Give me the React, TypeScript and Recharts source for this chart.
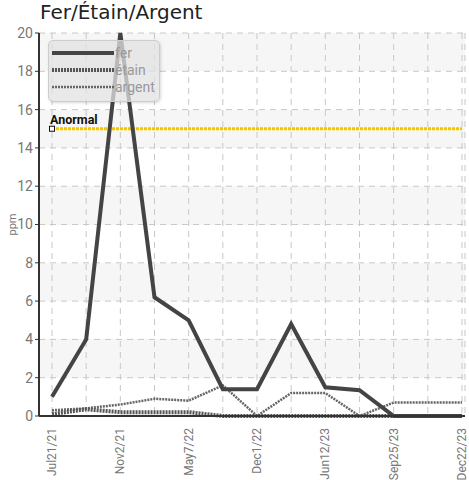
import React from "react";
import {
  LineChart,
  Line,
  XAxis,
  YAxis,
  CartesianGrid,
} from "recharts";

const dates = [
  "Jul21/21",
  "Sep14/21",
  "Nov2/21",
  "Feb8/22",
  "May7/22",
  "Aug20/22",
  "Dec1/22",
  "Mar9/23",
  "Jun12/23",
  "Aug3/23",
  "Sep25/23",
  "Nov10/23",
  "Dec22/23",
];
const fer = [1.0, 4.0, 20, 6.2, 5.0, 1.4, 1.4, 4.8, 1.5, 1.35, 0, 0, 0];
const etain = [0.1, 0.35, 0.2, 0.2, 0.2, 0, 0, 0, 0, 0, 0, 0, 0];
const argent = [0.3, 0.4, 0.6, 0.9, 0.8, 1.6, 0, 1.2, 1.2, 0, 0.7, 0.7, 0.7];
const anormal = dates.map(() => 15);
const yTicks = [0, 2, 4, 6, 8, 10, 12, 14, 16, 18, 20];

const data = dates.map((d, i) => ({
  date: d,
  fer: fer[i],
  etain: etain[i],
  argent: argent[i],
  anormal: anormal[i],
}));

const FONT = "'DejaVu Sans', sans-serif";
const NARROW = "Roboto, sans-serif";

const XTick = ({ x, y, payload, index }: any) => {
  if (index % 2 !== 0) return null;
  return (
    <text
      x={x}
      y={y}
      transform={`rotate(-90, ${x}, ${y})`}
      textAnchor="end"
      dy={4}
      dx={-4}
      fontSize={12}
      fontFamily={NARROW}
      fill="#777"
    >
      {payload.value}
    </text>
  );
};

const AnormalDot = ({ cx, cy, index }: any) => {
  if (index !== 0) return null;
  return (
    <g>
      <rect x={cx - 2.5} y={cy - 2.5} width={5} height={5} fill="#fff" stroke="#111" strokeWidth={1} />
      <text x={cx - 2} y={cy - 5} fontSize={12.5} fontWeight="bold" fontFamily={NARROW} fill="#111">
        Anormal
      </text>
    </g>
  );
};

const LegendBox = () => {
  const items = [
    { name: "fer", w: 4, dash: undefined, color: "#444" },
    { name: "étain", w: 4, dash: "2 1", color: "#555" },
    { name: "argent", w: 2.5, dash: "2 1", color: "#666" },
  ];
  return (
    <div
      style={{
        position: "absolute",
        left: 48,
        top: 40,
        width: 112,
        height: 62,
        background: "rgba(225,225,225,0.75)",
        border: "1px solid #ccc",
        borderRadius: 5,
        boxShadow: "1px 1px 3px rgba(0,0,0,0.15)",
        paddingTop: 3,
        boxSizing: "border-box",
        zIndex: 2,
      }}
    >
      {items.map((it) => (
        <div key={it.name} style={{ display: "flex", alignItems: "center", height: 17, marginLeft: 3 }}>
          <svg width={62} height={8}>
            <line x1={0} y1={4} x2={62} y2={4} stroke={it.color} strokeWidth={it.w} strokeDasharray={it.dash} />
          </svg>
          <span style={{ fontFamily: NARROW, fontSize: 14, color: "#999", marginLeft: 1 }}>{it.name}</span>
        </div>
      ))}
    </div>
  );
};

export default function App() {
  return (
    <div style={{ position: "absolute", left: 0, top: 0, width: 469, height: 480, background: "#fff" }}>
      <div
        style={{
          position: "absolute",
          left: 40,
          top: 0,
          fontFamily: FONT,
          fontSize: 20,
          color: "#222",
        }}
      >
        Fer/Étain/Argent
      </div>
      <LineChart
        width={469}
        height={480}
        data={data}
        margin={{ top: 33, right: 4, left: 0, bottom: 0 }}
      >
        <CartesianGrid
          stroke="#c8c8c8"
          strokeDasharray="6 5"
          horizontalFill={["#f6f6f6", "#ffffff"]}
        />
        <XAxis
          dataKey="date"
          interval={0}
          tick={<XTick />}
          tickLine={false}
          axisLine={{ stroke: "#333", strokeWidth: 2 }}
          height={64}
          padding={{ left: 13, right: 3 }}
        />
        <YAxis
          domain={[0, 20]}
          ticks={yTicks}
          width={39}
          tickSize={4}
          tickLine={{ stroke: "#333" }}
          axisLine={{ stroke: "#333", strokeWidth: 2 }}
          tick={{ fontSize: 14, fontFamily: NARROW, fill: "#777" }}
          label={{
            value: "ppm",
            angle: -90,
            position: "insideLeft",
            offset: 12,
            style: { fontSize: 11, fontFamily: NARROW, fill: "#777", textAnchor: "middle" },
          }}
        />
        <Line
          dataKey="anormal"
          stroke="#f5c400"
          strokeWidth={3}
          strokeDasharray="3 1"
          dot={<AnormalDot />}
          activeDot={false}
          isAnimationActive={false}
        />
        <Line
          dataKey="argent"
          stroke="#666"
          strokeWidth={2.5}
          strokeDasharray="2 1"
          dot={false}
          isAnimationActive={false}
        />
        <Line
          dataKey="etain"
          stroke="#555"
          strokeWidth={4}
          strokeDasharray="2 1"
          dot={false}
          isAnimationActive={false}
        />
        <Line
          dataKey="fer"
          stroke="#444"
          strokeWidth={4}
          dot={false}
          isAnimationActive={false}
        />
      </LineChart>
      <LegendBox />
    </div>
  );
}
